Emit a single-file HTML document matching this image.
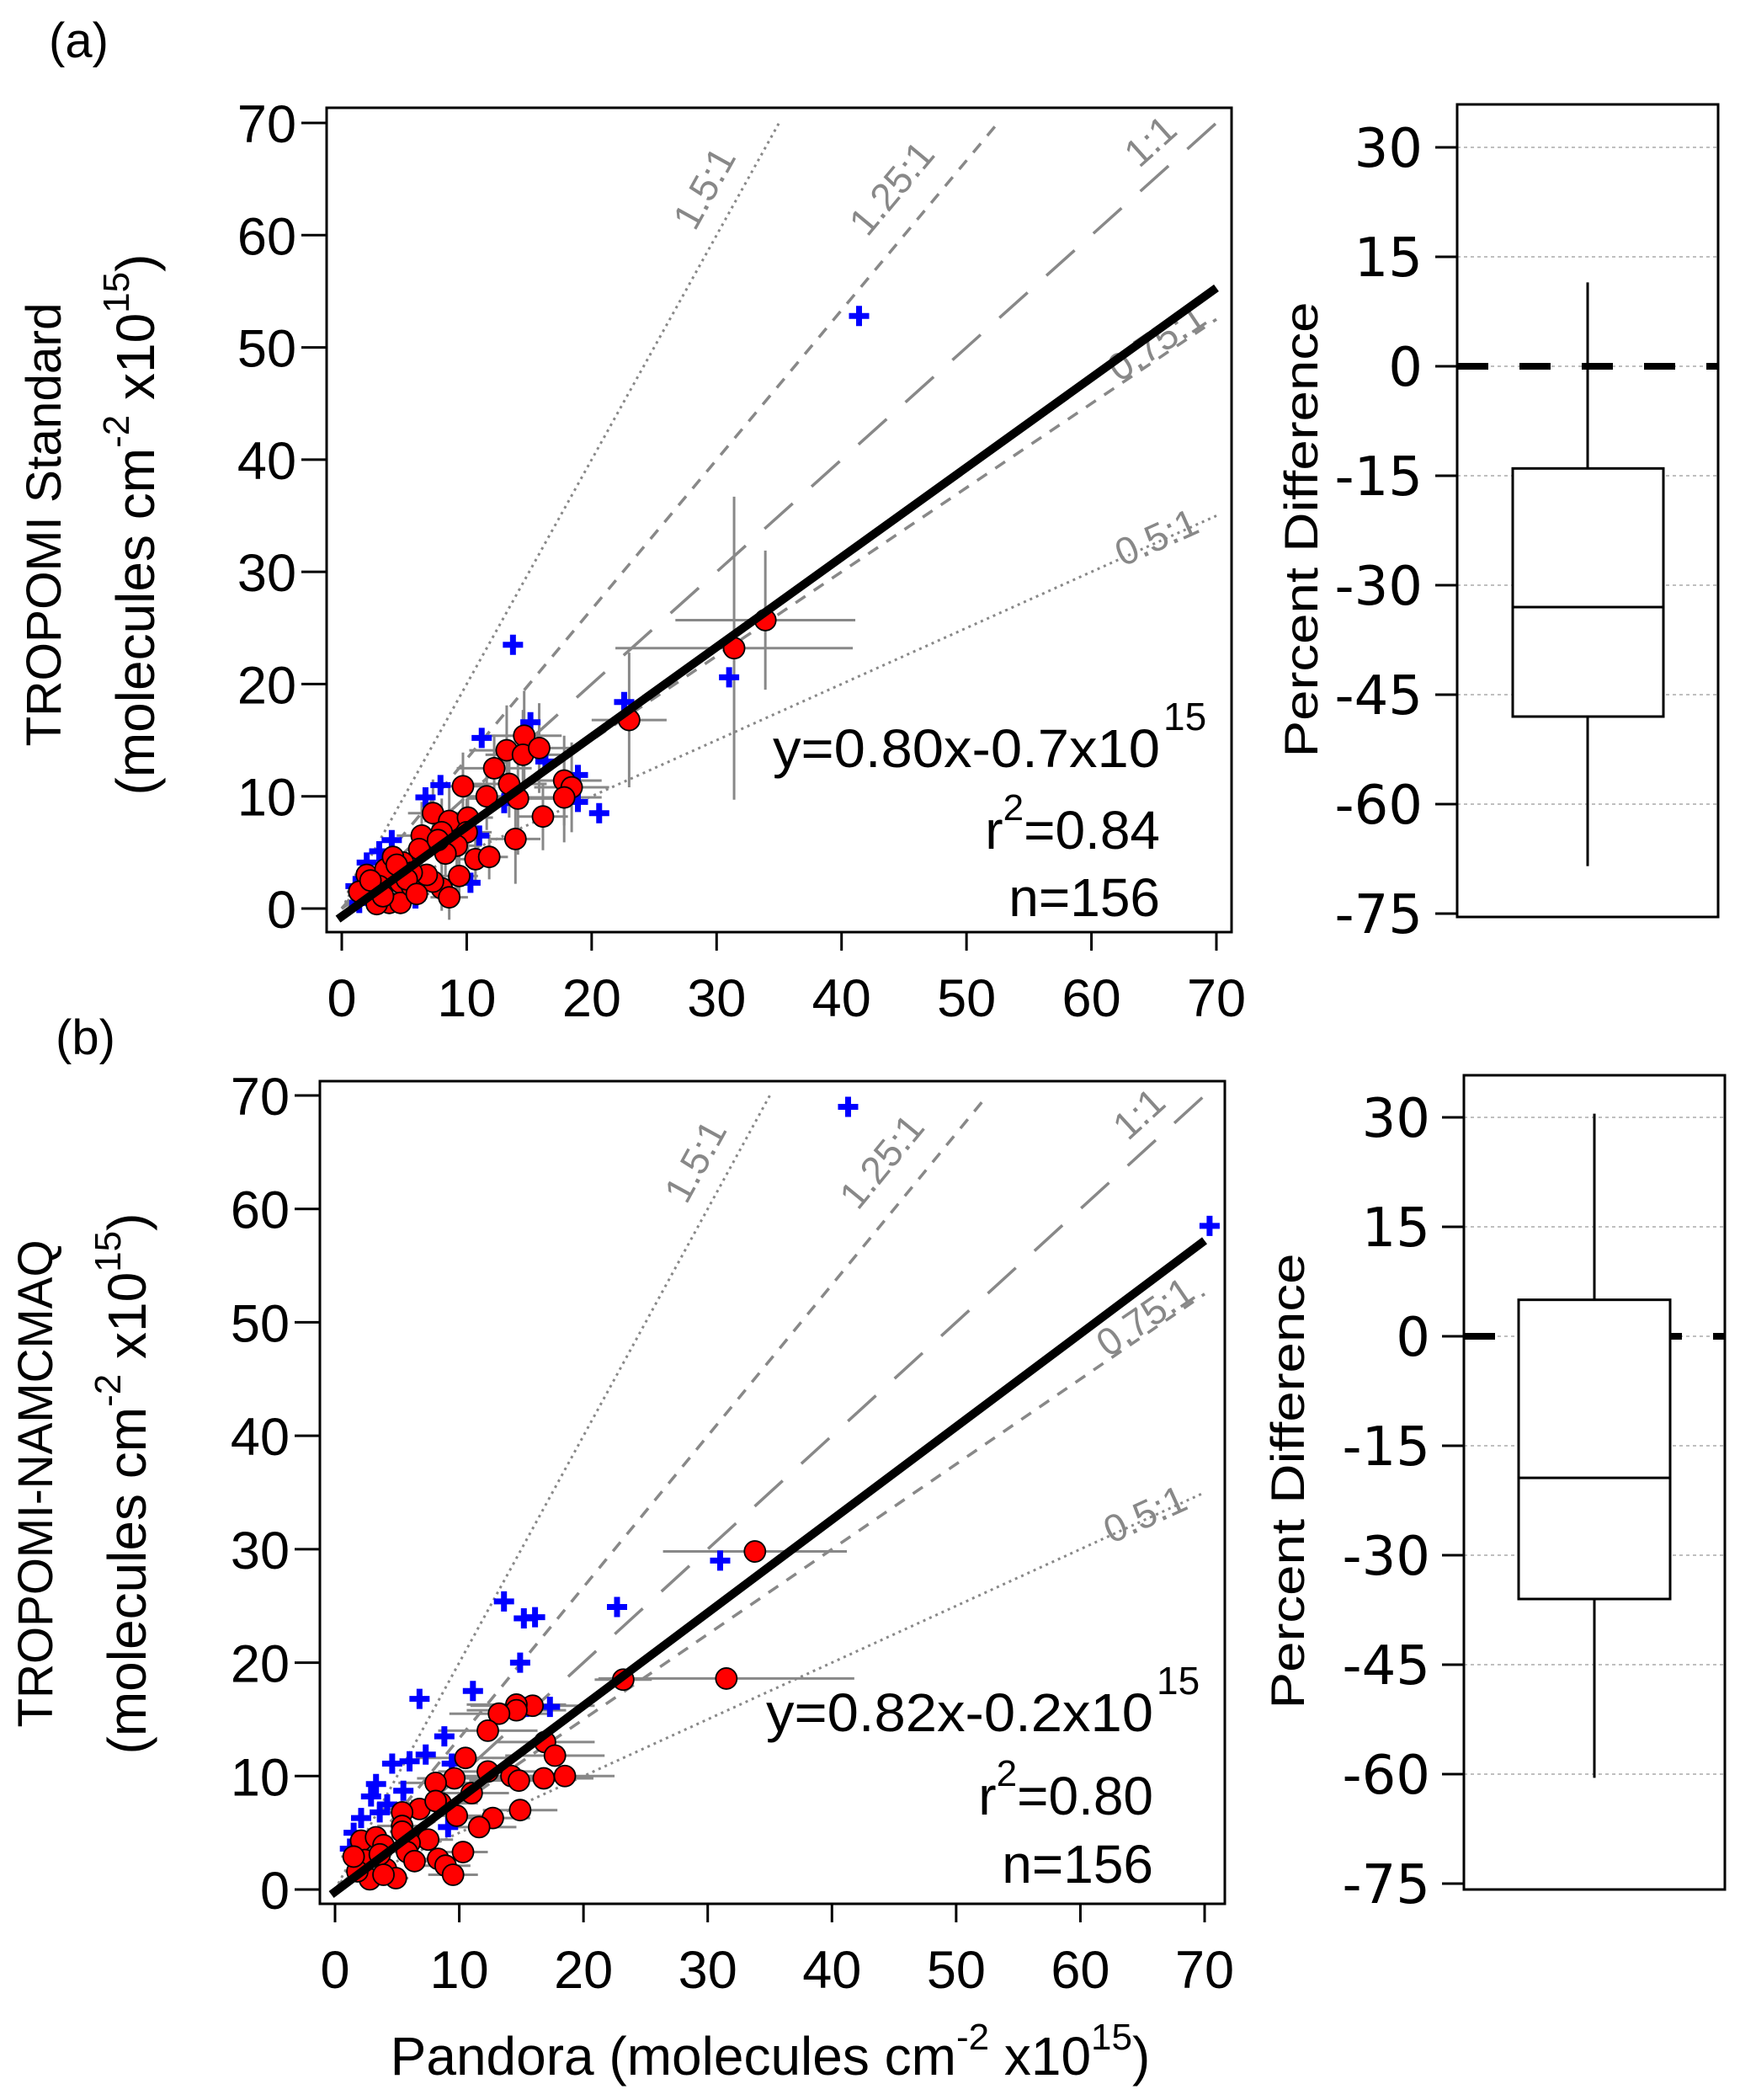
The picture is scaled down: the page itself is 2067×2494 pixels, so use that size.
<!DOCTYPE html>
<html><head><meta charset="utf-8"><style>
html,body{margin:0;padding:0;background:#fff}
svg{display:block;font-family:"Liberation Sans",sans-serif}
</style></head><body>
<svg id="fig" width="2067" height="2494" viewBox="0 0 2067 2494" xmlns="http://www.w3.org/2000/svg">
<text x="58" y="68" font-size="58">(a)</text>
<text x="66" y="1252" font-size="58">(b)</text>
<g id="pa"></g>
<g id="pb"></g>
<g id="ba"></g>
<g id="bb"></g>
<!-- axis titles -->
<text transform="translate(72,623) rotate(-90)" text-anchor="middle" font-size="58" textLength="527" lengthAdjust="spacingAndGlyphs">TROPOMI Standard</text>
<text transform="translate(183,623) rotate(-90)" text-anchor="middle" font-size="64">(molecules cm<tspan dy="-30" font-size="44">-2</tspan><tspan dy="30"> x10</tspan><tspan dy="-30" font-size="44">15</tspan><tspan dy="30">)</tspan></text>
<text transform="translate(62,1762) rotate(-90)" text-anchor="middle" font-size="58" textLength="579" lengthAdjust="spacingAndGlyphs">TROPOMI-NAMCMAQ</text>
<text transform="translate(173,1762) rotate(-90)" text-anchor="middle" font-size="64">(molecules cm<tspan dy="-30" font-size="44">-2</tspan><tspan dy="30"> x10</tspan><tspan dy="-30" font-size="44">15</tspan><tspan dy="30">)</tspan></text>
<text x="915" y="2464" text-anchor="middle" font-size="64">Pandora (molecules cm<tspan dy="-30" font-size="44">-2</tspan><tspan dy="30"> x10</tspan><tspan dy="-30" font-size="44">15</tspan><tspan dy="30">)</tspan></text>
<text transform="translate(1565,629) rotate(-90)" text-anchor="middle" font-size="56" textLength="541" lengthAdjust="spacingAndGlyphs">Percent Difference</text>
<text transform="translate(1549,1759) rotate(-90)" text-anchor="middle" font-size="56" textLength="541" lengthAdjust="spacingAndGlyphs">Percent Difference</text>
</svg>
<script>
// ---------- data ----------
const xTicks = [0,10,20,30,40,50,60,70];
const yTicks = [0,10,20,30,40,50,60,70];
const boxTicks = [30,15,0,-15,-30,-45,-60,-75];
const ratios = [2,1.333,1,0.75,0.5];
const ratioLabels = ["1.5:1","1.25:1","1:1","0.75:1","0.5:1"];
const ratioStyles = ["dot","short","long","short","dot"];
const labelX = [29.0,44.0,64.7,65.2,65.2];
const labelY = [64.2,64.2,68.4,50.5,33.1];

const fitA = [0.80,-0.7];
const fitB = [0.82,-0.2];
const statsA = ["y=0.80x-0.7x10","r","=0.84","n=156"];
const statsB = ["y=0.82x-0.2x10","r","=0.80","n=156"];

const redAx = [33.9,31.4,23.0,14.6,13.2,14.5,15.8,12.2,13.4,9.7,11.6,14.1,17.8,18.4,17.8,16.1,13.9,7.3,8.6,10.1,6.4,8.0,10.0,9.2,8.3,10.7,11.8,9.4,8.0,8.6,7.3,4.9,6.2,2.0,3.5,4.7,2.6,3.8,4.7,2.8,1.4,5.6,6.8,4.1,7.7,3.0,5.6,4.4,5.2,3.3,6.0,2.3];
const redAy = [25.7,23.2,16.8,15.4,14.1,13.7,14.3,12.5,11.1,10.9,10.0,9.8,11.4,10.8,9.9,8.2,6.2,8.5,7.8,8.1,6.5,6.8,6.8,5.6,4.9,4.4,4.6,2.9,1.8,1.0,2.4,4.1,5.3,3.0,3.5,2.3,1.8,0.5,0.5,0.4,1.5,2.0,3.0,4.6,6.1,2.0,3.2,3.9,2.6,1.1,1.3,2.5];
const redAex = [7.2,9.5,3,3,3,3,3,3,3,2,2,4,3,3,3,2,2,2,2,2,2,2,2,2,1.5,1.5,1.5,1.5,1.5,1.5,1,1,1,1,1,1,1,1,1,1,1,1,1,1,1,1,1,1,1,1,1,1];
const redAey = [6.2,13.5,6,4,4,4,4,3,3,3,3,5,4,4,4,3,4,3,3,3,3,3,3,2,2,2,2,2,2,2,1,1,1,1,1,1,1,1,1,1,1,1,1,1,1,1,1,1,1,1,1,1];
const blueAx = [41.4,13.7,11.2,15.1,22.6,31.0,20.6,16.3,18.9,18.9,6.7,7.9,11.0,10.3,4.0,3.0,2.0,1.1,1.4,5.9,13.0,5.2];
const blueAy = [52.8,23.5,15.2,16.6,18.4,20.6,8.5,13.1,11.9,9.5,9.9,11.0,6.5,2.3,6.1,5.1,4.1,2.0,0.5,0.9,9.4,2.8];

const redBx = [33.8,31.5,23.2,15.9,14.6,14.6,13.2,12.3,16.9,17.7,10.5,12.3,14.2,14.8,16.8,18.5,9.6,8.1,11.0,14.9,12.7,11.6,8.5,6.8,5.4,8.1,9.8,5.4,7.5,10.3,8.3,8.9,9.5,2.1,3.3,3.9,6.0,2.4,4.1,2.8,4.9,1.8,3.6,5.8,6.4,5.4,1.5,3.9];
const redBy = [29.8,18.6,18.5,16.2,16.3,15.8,15.5,14.0,13.0,11.8,11.6,10.4,10.0,9.6,9.8,10.0,9.8,9.4,8.5,7.0,6.3,5.5,7.6,7.1,6.8,7.8,6.5,5.6,4.4,3.3,2.7,2.1,1.3,4.3,4.6,3.9,4.1,2.6,1.8,0.9,1.0,1.6,3.1,3.3,2.5,5.1,2.9,1.3];
const redBex = [7.4,10.3,2.3,5,4,4,4,4,4,4,4,4,4,4,4,4,3,3,3,3,3,3,3,3,2,2,2,2,2,2,2,2,2,1,1,1,1,1,1,1,1,1,1,1,1,1,1,1];
const blueBx = [41.3,70.4,31.0,22.7,13.6,15.2,16.1,14.9,11.1,6.8,8.8,7.3,6.0,4.6,3.3,5.5,9.4,17.3,15.4,2.9,2.1,1.5,9.1,1.2,4.2,3.6];
const blueBy = [69.0,58.5,29.0,24.9,25.4,23.9,24.0,20.0,17.5,16.8,13.5,11.9,11.3,11.1,9.3,8.7,11.1,16.1,16.1,8.2,6.3,5.0,5.5,3.6,7.5,6.8];

const boxA = {hi:11.5, q3:-14, med:-33, q1:-48, lo:-68.5};
const boxB = {hi:30.5, q3:5, med:-19.4, q1:-36, lo:-60.5};

// ---------- helpers ----------
const NS = "http://www.w3.org/2000/svg";
function mk(parent, tag, attrs){
  const e = document.createElementNS(NS, tag);
  for (const k in attrs) e.setAttribute(k, attrs[k]);
  parent.appendChild(e);
  return e;
}

function scatter(gid, P, fit, stats, rx, ry, rex, rey, bx, by, hasY){
  const g = document.getElementById(gid);
  const sx = v => P.x0 + (P.x70 - P.x0) * v / 70;
  const sy = v => P.y0 + (P.y70 - P.y0) * v / 70;
  const cid = gid + "clip";
  const defs = mk(g, "defs", {});
  const cp = mk(defs, "clipPath", {id: cid});
  mk(cp, "rect", {x: P.L, y: P.T, width: P.R - P.L, height: P.B - P.T});
  const inner = mk(g, "g", {"clip-path": "url(#" + cid + ")"});
  
  
  ratios.forEach((r, i) => {
    const xe = Math.min(70, 70 / r);
    const dash = ratioStyles[i] === "dot" ? "3,5" : (ratioStyles[i] === "short" ? "14,12" : "45,30");
    const ln = mk(inner, "line", {x1: sx(0), y1: sy(0), x2: sx(xe), y2: sy(xe * r), stroke: "#888", "stroke-width": ratioStyles[i] === "dot" ? 3 : 3.5, "stroke-dasharray": dash});
    
    
    const lx = labelX[i], ly = labelY[i];
    const ang = Math.atan2(sy(r) - sy(0), sx(1) - sx(0)) * 180 / Math.PI;
    const t = mk(inner, "text", {transform: "translate(" + sx(lx) + "," + sy(ly) + ") rotate(" + ang + ")", "text-anchor": "middle", "font-size": 46, fill: "#888", dy: "16"});
    t.textContent = ratioLabels[i];
    
    
  });
  rx.forEach((v, i) => {
    const h = mk(inner, "line", {x1: sx(v - rex[i]), x2: sx(v + rex[i]), y1: sy(ry[i]), y2: sy(ry[i]), stroke: "#888", "stroke-width": 3});
    
    
    if (hasY) {
      const vv = mk(inner, "line", {x1: sx(v), x2: sx(v), y1: sy(ry[i] - rey[i]), y2: sy(ry[i] + rey[i]), stroke: "#888", "stroke-width": 3});
      
      
    }
  });
  bx.forEach((v, i) => {
    const cx = sx(v), cy = sy(by[i]);
    const p = mk(inner, "path", {d: "M" + (cx - 12) + " " + cy + "H" + (cx + 12) + "M" + cx + " " + (cy - 12) + "V" + (cy + 12), stroke: "#0000ff", "stroke-width": 7});
    
    
  });
  rx.forEach((v, i) => {
    const c = mk(inner, "circle", {cx: sx(v), cy: sy(ry[i]), r: 12.5, fill: "#ff0000", stroke: "#000", "stroke-width": 1.8});
    
    
  });
  const f = mk(inner, "line", {x1: sx(-0.3), y1: sy(fit[0] * -0.3 + fit[1]), x2: sx(70), y2: sy(fit[0] * 70 + fit[1]), stroke: "#000", "stroke-width": 10});
  
  
  const fr = mk(g, "rect", {x: P.L, y: P.T, width: P.R - P.L, height: P.B - P.T, fill: "none", stroke: "#000", "stroke-width": 3});
  
  
  yTicks.forEach(v => {
    const tk = mk(g, "line", {x1: P.L - 30, x2: P.L, y1: sy(v), y2: sy(v), stroke: "#000", "stroke-width": 3});
    
    
    const t = mk(g, "text", {x: P.L - 36, y: sy(v) + 23, "text-anchor": "end", "font-size": 63});
    t.textContent = v;
    
    
  });
  xTicks.forEach(v => {
    const tk = mk(g, "line", {x1: sx(v), x2: sx(v), y1: P.B, y2: P.B + 22, stroke: "#000", "stroke-width": 3});
    
    
    const t = mk(g, "text", {x: sx(v), y: P.B + 100, "text-anchor": "middle", "font-size": 63});
    t.textContent = v;
    
    
  });
  const s1 = mk(g, "text", {x: P.sx, y: P.s1, "text-anchor": "end", "font-size": 64, textLength: 460, lengthAdjust: "spacingAndGlyphs"});
  s1.textContent = stats[0];
  
  
  const s1b = mk(g, "text", {x: P.sx + 4, y: P.s1 - 44, "font-size": 46});
  s1b.textContent = "15";
  
  
  const s2 = mk(g, "text", {x: P.sx, y: P.s2, "text-anchor": "end", "font-size": 64});
  const t1 = mk(s2, "tspan", {}); t1.textContent = stats[1];
  const t2 = mk(s2, "tspan", {dy: -34, "font-size": 44}); t2.textContent = "2";
  const t3 = mk(s2, "tspan", {dy: 34}); t3.textContent = stats[2];
  
  
  const s3 = mk(g, "text", {x: P.sx, y: P.s3, "text-anchor": "end", "font-size": 64});
  s3.textContent = stats[3];
  
  
}

function box(gid, P, b){
  const g = document.getElementById(gid);
  const sy = v => P.y30 + (P.ym75 - P.y30) * (30 - v) / 105;
  boxTicks.forEach(v => {
    if (v > -75) {
      const gl = mk(g, "line", {x1: P.L, x2: P.R, y1: sy(v), y2: sy(v), stroke: "#aaa", "stroke-width": 1.5, "stroke-dasharray": "4,4"});
      
      
    }
    const tk = mk(g, "line", {x1: P.L - 26, x2: P.L, y1: sy(v), y2: sy(v), stroke: "#000", "stroke-width": 3});
    
    
    const t = mk(g, "text", {x: P.lx, y: sy(v) + 23, "text-anchor": "end", "font-size": 64, "font-family": "DejaVu Sans, sans-serif"});
    t.textContent = v;
    
    
  });
  const z = mk(g, "line", {x1: P.L, x2: P.R, y1: sy(0), y2: sy(0), stroke: "#000", "stroke-width": 8, "stroke-dasharray": "37,37"});
  
  
  const w = mk(g, "line", {x1: P.wx, x2: P.wx, y1: sy(b.hi), y2: sy(b.lo), stroke: "#000", "stroke-width": 3});
  
  
  const r = mk(g, "rect", {x: P.bl, y: sy(b.q3), width: P.br - P.bl, height: sy(b.q1) - sy(b.q3), fill: "#fff", stroke: "#000", "stroke-width": 3});
  
  
  const m = mk(g, "line", {x1: P.bl, x2: P.br, y1: sy(b.med), y2: sy(b.med), stroke: "#000", "stroke-width": 3});
  
  
  const fr = mk(g, "rect", {x: P.L, y: P.T, width: P.R - P.L, height: P.B - P.T, fill: "none", stroke: "#000", "stroke-width": 3});
  
  
}

scatter("pa", {L:388, R:1463, T:128, B:1107, x0:406, x70:1445, y0:1079, y70:146, sx:1378, s1:911, s2:1008, s3:1088}, fitA, statsA, redAx, redAy, redAex, redAey, blueAx, blueAy, true);
scatter("pb", {L:380, R:1455, T:1284, B:2261, x0:398, x70:1431, y0:2244, y70:1301, sx:1370, s1:2056, s2:2155, s3:2236}, fitB, statsB, redBx, redBy, redBex, redBex, blueBx, blueBy, false);
box("ba", {L:1731, R:2041, T:124, B:1089, y30:175, ym75:1085, lx:1690, wx:1886, bl:1797, br:1976}, boxA);
box("bb", {L:1739, R:2049, T:1277, B:2244, y30:1327, ym75:2237, lx:1699, wx:1894, bl:1804, br:1984}, boxB);
</script>
</body></html>
